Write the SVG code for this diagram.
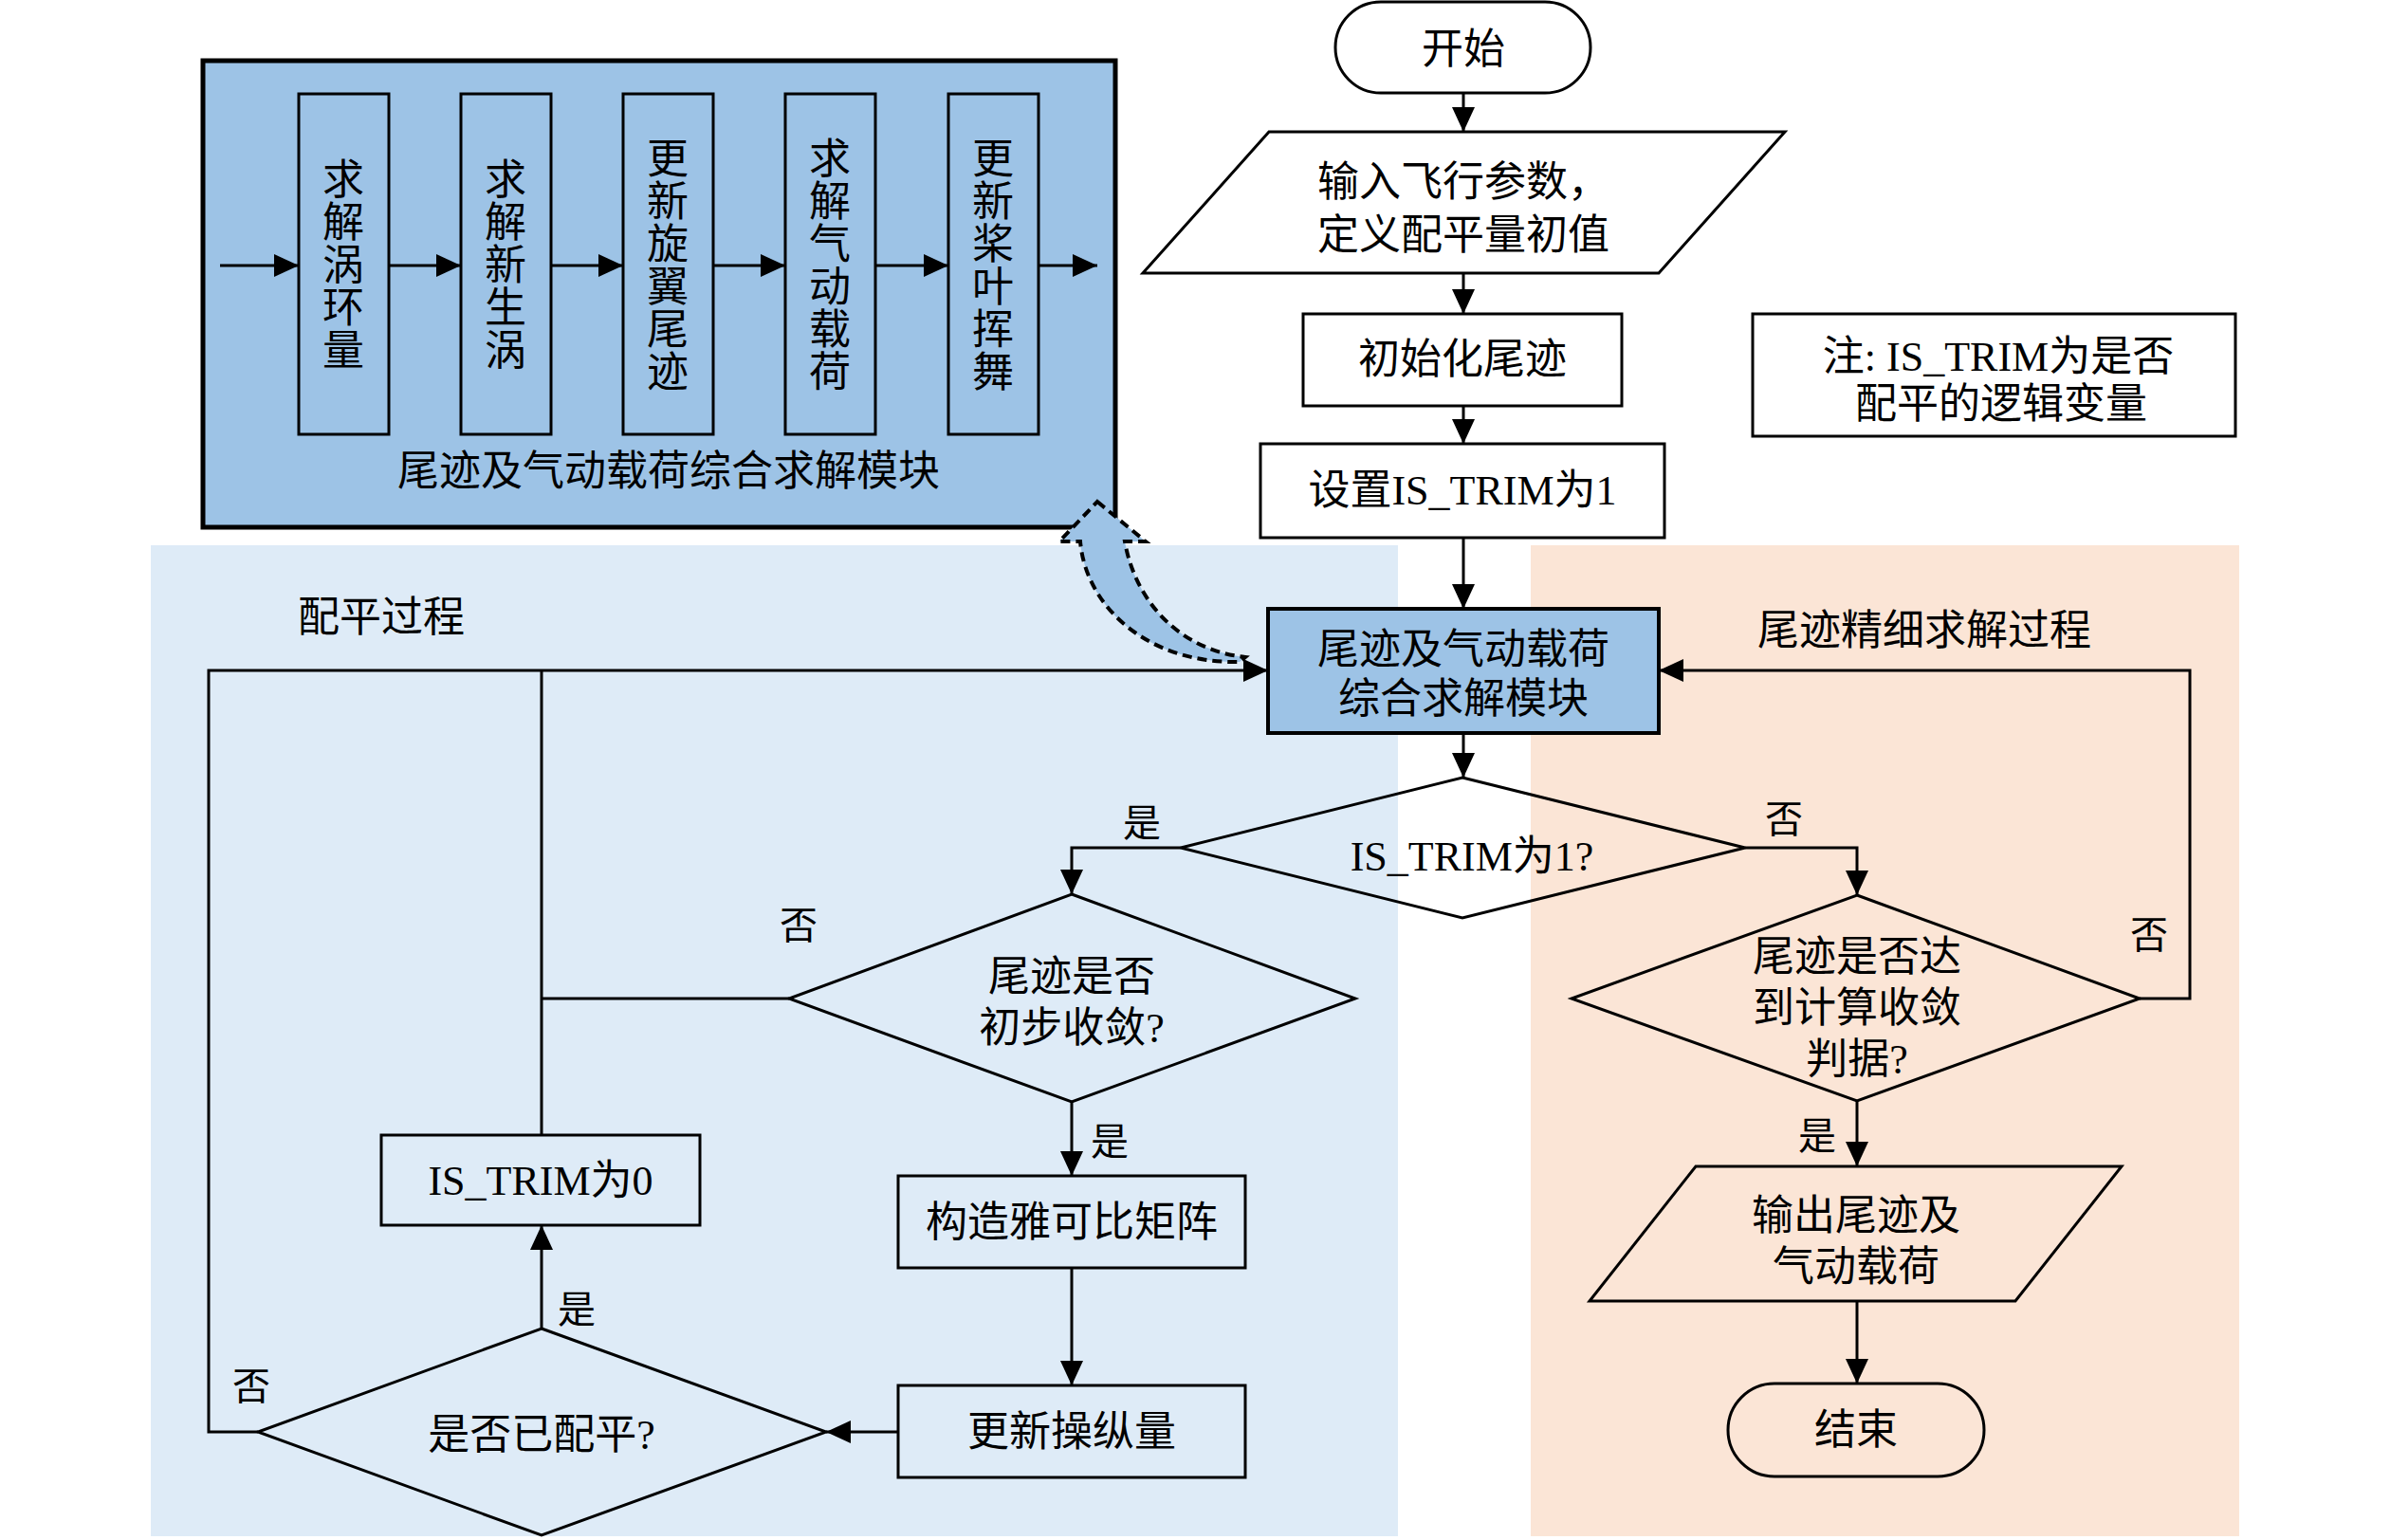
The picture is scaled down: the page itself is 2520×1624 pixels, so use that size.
<svg xmlns="http://www.w3.org/2000/svg" width="2520" height="1624" viewBox="0 0 2520 1624">
<style>
text{font-family:"Liberation Serif","Noto Sans CJK SC",serif;font-size:44px;text-anchor:middle;fill:#000}
.lbl{font-size:40px}
.box{fill:#fff;stroke:#000;stroke-width:3}
.bluebox{fill:#9DC3E6;stroke:#000;stroke-width:4}
.inner{fill:none;stroke:#000;stroke-width:3}
.bgbox{fill:none;stroke:#000;stroke-width:3}
.con{fill:none;stroke:#000;stroke-width:3}
.arr{marker-end:url(#ah)}
</style>
<defs>
<marker id="ah" viewBox="0 0 10 10" refX="10" refY="5" markerUnits="userSpaceOnUse" markerWidth="26" markerHeight="24" orient="auto" preserveAspectRatio="none">
<path d="M0,0 L10,5 L0,10 z" fill="#000"/>
</marker>
</defs>
<rect width="2520" height="1624" fill="#fff"/>
<g id="bg-trim"><rect x="159" y="575" width="1315" height="1045" fill="#DEEBF7"/></g>
<g id="bg-wake"><rect x="1614" y="575" width="747" height="1045" fill="#FBE5D6"/></g>

<g id="module-detail">
<rect x="214" y="64" width="962" height="492" fill="#9DC3E6" stroke="#000" stroke-width="5"/>
<rect class="inner" x="315" y="99" width="95" height="359"/>
<rect class="inner" x="486" y="99" width="95" height="359"/>
<rect class="inner" x="657" y="99" width="95" height="359"/>
<rect class="inner" x="828" y="99" width="95" height="359"/>
<rect class="inner" x="1000" y="99" width="95" height="359"/>
<text><tspan x="362" y="205">求</tspan><tspan x="362" y="250">解</tspan><tspan x="362" y="295">涡</tspan><tspan x="362" y="340">环</tspan><tspan x="362" y="385">量</tspan></text>
<text><tspan x="533" y="205">求</tspan><tspan x="533" y="250">解</tspan><tspan x="533" y="295">新</tspan><tspan x="533" y="340">生</tspan><tspan x="533" y="385">涡</tspan></text>
<text><tspan x="704" y="183">更</tspan><tspan x="704" y="228">新</tspan><tspan x="704" y="273">旋</tspan><tspan x="704" y="318">翼</tspan><tspan x="704" y="363">尾</tspan><tspan x="704" y="408">迹</tspan></text>
<text><tspan x="875" y="183">求</tspan><tspan x="875" y="228">解</tspan><tspan x="875" y="273">气</tspan><tspan x="875" y="318">动</tspan><tspan x="875" y="363">载</tspan><tspan x="875" y="408">荷</tspan></text>
<text><tspan x="1047" y="183">更</tspan><tspan x="1047" y="228">新</tspan><tspan x="1047" y="273">桨</tspan><tspan x="1047" y="318">叶</tspan><tspan x="1047" y="363">挥</tspan><tspan x="1047" y="408">舞</tspan></text>
<g class="con">
<line class="arr" x1="232" y1="280" x2="315" y2="280"/>
<line class="arr" x1="410" y1="280" x2="486" y2="280"/>
<line class="arr" x1="581" y1="280" x2="657" y2="280"/>
<line class="arr" x1="752" y1="280" x2="828" y2="280"/>
<line class="arr" x1="923" y1="280" x2="1000" y2="280"/>
<line class="arr" x1="1095" y1="280" x2="1157" y2="280"/>
</g>
<text x="705" y="512">尾迹及气动载荷综合求解模块</text>
</g>

<g id="connectors" class="con">
<line class="arr" x1="1543" y1="98" x2="1543" y2="139"/>
<line class="arr" x1="1543" y1="288" x2="1543" y2="331"/>
<line class="arr" x1="1543" y1="428" x2="1543" y2="468"/>
<line class="arr" x1="1543" y1="567" x2="1543" y2="642"/>
<line class="arr" x1="1543" y1="773" x2="1543" y2="820"/>
<polyline class="arr" points="1245,894 1130,894 1130,943"/>
<polyline class="arr" points="1840,894 1958,894 1958,944"/>
<polyline class="arr" points="272,1510 220,1510 220,707 1337,707"/>
<line x1="571" y1="1197" x2="571" y2="707"/>
<line x1="832" y1="1053" x2="571" y2="1053"/>
<line class="arr" x1="1130" y1="1162" x2="1130" y2="1240"/>
<line class="arr" x1="1130" y1="1337" x2="1130" y2="1461"/>
<line class="arr" x1="947" y1="1510" x2="871" y2="1510"/>
<line class="arr" x1="571" y1="1401" x2="571" y2="1292"/>
<polyline class="arr" points="2256,1053 2309,1053 2309,707 1749,707"/>
<line class="arr" x1="1958" y1="1161" x2="1958" y2="1230"/>
<line class="arr" x1="1958" y1="1372" x2="1958" y2="1459"/>
</g>

<g id="start"><rect class="box" x="1408" y="2" width="269" height="96" rx="48"/><text x="1543" y="67">开始</text></g>
<g id="input"><polygon class="box" points="1338,139 1882,139 1749,288 1205,288"/><text x="1543" y="207">输入飞行参数，</text><text x="1543" y="263">定义配平量初值</text></g>
<g id="init-wake"><rect class="box" x="1374" y="331" width="336" height="97"/><text x="1542" y="394">初始化尾迹</text></g>
<g id="set-trim"><rect class="box" x="1329" y="468" width="426" height="99"/><text x="1542" y="532">设置IS_TRIM为1</text></g>
<g id="note"><rect class="box" x="1848" y="331" width="509" height="129"/><text x="2107" y="391">注: IS_TRIM为是否</text><text x="2110" y="441">配平的逻辑变量</text></g>
<g id="module"><rect class="bluebox" x="1337" y="642" width="412" height="131"/><text x="1543" y="700">尾迹及气动载荷</text><text x="1543" y="752">综合求解模块</text></g>
<g id="d-trim1"><polygon class="box" points="1542,820 1840,894 1542,968 1245,894" fill-opacity="0"/><text x="1552" y="918">IS_TRIM为1?</text></g>
<g id="d-prelim"><polygon class="bgbox" points="1130,943 1429,1053 1130,1162 832,1053"/><text x="1130" y="1045">尾迹是否</text><text x="1130" y="1099">初步收敛?</text></g>
<g id="jacobian"><rect class="bgbox" x="947" y="1240" width="366" height="97"/><text x="1130" y="1304">构造雅可比矩阵</text></g>
<g id="update"><rect class="bgbox" x="947" y="1461" width="366" height="97"/><text x="1130" y="1525">更新操纵量</text></g>
<g id="d-trimmed"><polygon class="bgbox" points="571,1401 871,1510 571,1619 272,1510"/><text x="571" y="1528">是否已配平?</text></g>
<g id="trim0"><rect class="bgbox" x="402" y="1197" width="336" height="95"/><text x="570" y="1260">IS_TRIM为0</text></g>
<g id="d-converge"><polygon class="bgbox" points="1958,944 2256,1053 1958,1161 1657,1053"/><text x="1958" y="1024">尾迹是否达</text><text x="1958" y="1078">到计算收敛</text><text x="1958" y="1132">判据?</text></g>
<g id="output"><polygon class="bgbox" points="1788,1230 2237,1230 2125,1372 1676,1372"/><text x="1957" y="1297">输出尾迹及</text><text x="1957" y="1351">气动载荷</text></g>
<g id="end"><rect class="bgbox" x="1822" y="1459" width="270" height="98" rx="49"/><text x="1957" y="1523">结束</text></g>

<g id="labels">
<text x="402" y="666">配平过程</text>
<text x="2029" y="680">尾迹精细求解过程</text>
<text class="lbl" x="1204" y="882">是</text>
<text class="lbl" x="1881" y="878">否</text>
<text class="lbl" x="842" y="990">否</text>
<text class="lbl" x="1170" y="1218">是</text>
<text class="lbl" x="608" y="1395">是</text>
<text class="lbl" x="265" y="1476">否</text>
<text class="lbl" x="2266" y="1000">否</text>
<text class="lbl" x="1916" y="1212">是</text>
</g>

<g id="expand-arrow">
<path d="M1157,529 L1208,571 L1186,571 C1196,630 1240,685 1313,693 L1307,698 C1210,700 1145,640 1139,571 L1117,571 Z" fill="#9DC3E6" stroke="#000" stroke-width="4" stroke-dasharray="10 6" stroke-linejoin="miter"/>
</g>
</svg>
